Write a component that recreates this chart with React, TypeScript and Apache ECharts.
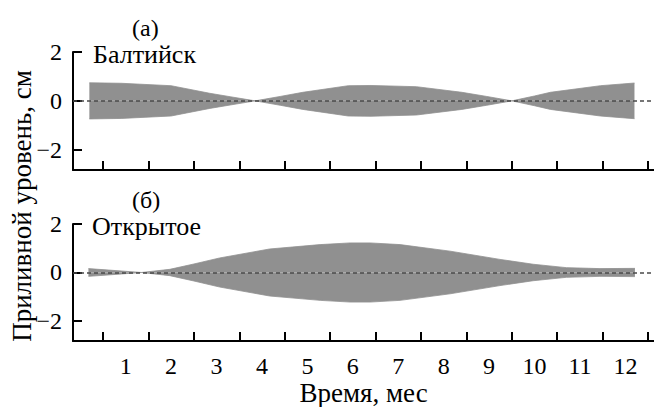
import React, { useEffect, useRef } from "react";
import * as echarts from "echarts";

// Envelope of tidal level (cm): time (months) and amplitude
const baltX = [0.2, 0.9, 2.0, 2.85, 3.3, 3.85, 4.4, 4.9, 5.9, 6.4, 7.4, 8.4, 8.95, 9.5, 10.0, 10.35, 11.45, 12.2];
const baltAmp = [0.74, 0.72, 0.62, 0.31, 0.17, 0.0, 0.18, 0.35, 0.62, 0.63, 0.58, 0.35, 0.18, 0.0, 0.2, 0.35, 0.62, 0.73];

const openX = [0.18, 0.7, 1.35, 1.97, 2.5, 3.07, 4.17, 5.28, 5.94, 6.38, 7.04, 8.14, 9.24, 9.97, 10.7, 11.44, 12.21];
const openAmp = [0.16, 0.09, 0.0, 0.13, 0.35, 0.6, 0.97, 1.15, 1.22, 1.22, 1.15, 0.88, 0.54, 0.34, 0.2, 0.16, 0.17];

const monthLabels = [1, 2, 3, 4, 5, 6, 7, 8, 9, 10, 11, 12];
const tickPositions = [0.5, 1.5, 2.5, 3.5, 4.5, 5.5, 6.5, 7.5, 8.5, 9.5, 10.5, 11.5, 12.5];
const yTicks = [-2, 0, 2];

const panelTags = ["(а)", "(б)"];
const panelNames = ["Балтийск", "Открытое"];
const yTitle = "Приливной уровень, см";
const xTitle = "Время, мес";

const FONT = "Times New Roman, Liberation Serif, serif";
const FILL = "#909090";

export default function App() {
  const ref = useRef<HTMLDivElement>(null);
  useEffect(() => {
    if (!ref.current) return;
    const chart = echarts.init(ref.current, undefined, { renderer: "svg" });

    const xAxisBase = (gridIndex: number, showLabels: boolean) => ({
      type: "value",
      gridIndex,
      min: -0.16,
      max: 12.63,
      splitLine: { show: false },
      axisLine: { show: true, onZero: false, lineStyle: { color: "#000", width: 2 } },
      axisTick: {
        show: true,
        inside: true,
        length: 9,
        lineStyle: { color: "#000", width: 2 },
        customValues: tickPositions,
      },
      axisLabel: {
        show: showLabels,
        customValues: monthLabels,
        margin: 13,
        color: "#000",
        fontFamily: FONT,
        fontSize: 24,
      },
    });

    const yAxisBase = (gridIndex: number) => ({
      type: "value",
      gridIndex,
      min: -2.83,
      max: 2,
      splitLine: { show: false },
      axisLine: { show: true, onZero: false, lineStyle: { color: "#000", width: 2 } },
      axisTick: {
        show: true,
        inside: true,
        length: 9,
        lineStyle: { color: "#000", width: 2 },
        customValues: yTicks,
      },
      axisLabel: {
        show: true,
        customValues: yTicks,
        margin: 11,
        color: "#000",
        fontFamily: FONT,
        fontSize: 24,
        formatter: (v: number) => (v < 0 ? "\u2212" + Math.abs(v) : String(v)),
      },
    });

    const bandSeries = (idx: number, xs: number[], amps: number[]) => [
      {
        type: "line",
        xAxisIndex: idx,
        yAxisIndex: idx,
        symbol: "none",
        lineStyle: { width: 0.8, color: FILL },
        areaStyle: { color: FILL, opacity: 1, origin: 0 },
        data: xs.map((x, i) => [x, amps[i]]),
        z: 2,
      },
      {
        type: "line",
        xAxisIndex: idx,
        yAxisIndex: idx,
        symbol: "none",
        lineStyle: { width: 0.8, color: FILL },
        areaStyle: { color: FILL, opacity: 1, origin: 0 },
        data: xs.map((x, i) => [x, -amps[i]]),
        markLine: {
          silent: true,
          symbol: "none",
          label: { show: false },
          lineStyle: { color: "#4a4a4a", width: 1.6, type: [4, 3] },
          data: [{ yAxis: 0 }],
          z: 10,
        },
        z: 2,
      },
    ];

    const label = (text: string, left: number, top: number, size: number) => ({
      text,
      left,
      top,
      padding: 0,
      textStyle: { color: "#000", fontFamily: FONT, fontSize: size, fontWeight: "normal", lineHeight: size },
    });

    chart.setOption({
      animation: false,
      backgroundColor: "#fff",
      title: [
        label(panelTags[0], 132, 16, 24),
        label(panelNames[0], 93, 41, 26),
        label(panelTags[1], 132, 188, 24),
        label(panelNames[1], 92, 213, 26),
      ],
      grid: [
        { left: 73, right: 0, top: 52, height: 118 },
        { left: 73, right: 0, top: 224, height: 119 },
        { left: 73, right: 0, top: 69, bottom: 64 },
      ],
      xAxis: [
        xAxisBase(0, false),
        {
          ...xAxisBase(1, true),
          name: xTitle,
          nameLocation: "middle",
          nameGap: 37,
          nameTextStyle: { color: "#000", fontFamily: FONT, fontSize: 27 },
        },
        { type: "value", gridIndex: 2, show: false },
      ],
      yAxis: [
        yAxisBase(0),
        yAxisBase(1),
        {
          type: "value",
          gridIndex: 2,
          axisLine: { show: false },
          axisTick: { show: false },
          axisLabel: { show: false },
          splitLine: { show: false },
          name: yTitle,
          nameLocation: "middle",
          nameRotate: 90,
          nameGap: 40,
          nameTextStyle: { color: "#000", fontFamily: FONT, fontSize: 27 },
        },
      ],
      series: [...bandSeries(0, baltX, baltAmp), ...bandSeries(1, openX, openAmp)],
    });
    return () => chart.dispose();
  }, []);
  return (
    <div
      ref={ref}
      style={{ position: "fixed", left: 0, top: 0, width: 654, height: 407 }}
    />
  );
}
